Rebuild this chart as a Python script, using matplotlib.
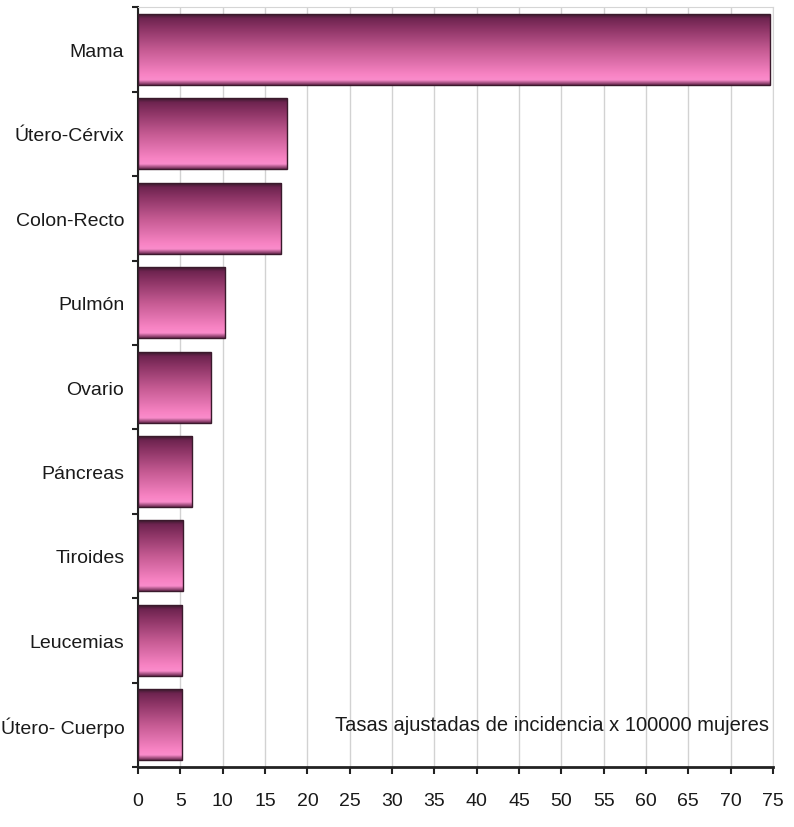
import numpy as np
import matplotlib
matplotlib.use("Agg")
from matplotlib import pyplot as plt
from matplotlib.colors import LinearSegmentedColormap

plt.rcParams['font.family'] = ['Liberation Sans Narrow', 'Liberation Sans', 'DejaVu Sans']

categorias = [u'Mama', u'Útero-Cérvix', u'Colon-Recto', u'Pulmón', u'Ovario',
              u'Páncreas', u'Tiroides', u'Leucemias', u'Útero- Cuerpo']
tasas = [74.6, 17.6, 16.9, 10.3, 8.6, 6.4, 5.3, 5.2, 5.2]
xticks = list(range(0, 80, 5))
nota = u"Tasas ajustadas de incidencia x 100000 mujeres"

# degradado vertical de las barras (arriba oscuro -> abajo rosa claro)
grad = LinearSegmentedColormap.from_list(
    "rosa", [(0.0, "#3a1a2c"), (0.06, "#6e2450"), (0.2, "#8c3465"),
             (0.5, "#c45a92"), (0.85, "#f783c3"), (0.93, "#fa8ccb"),
             (1.0, "#6a2a50")])

fig = plt.figure(figsize=(7.94, 8.28), dpi=100)
ax = fig.add_axes([0.174, 0.0725, 0.7995, 0.9175])

y = np.arange(len(categorias))
bars = ax.barh(y, tasas, height=0.84, color="none", edgecolor="#3a1a2c",
               linewidth=1.0, zorder=3)
g = np.linspace(0, 1, 256).reshape(-1, 1)
for b in bars:
    x0, y0 = b.get_x(), b.get_y()
    w, h = b.get_width(), b.get_height()
    # y invertido: fila 0 de la imagen en la parte superior de la barra
    im = ax.imshow(g, cmap=grad, aspect="auto", origin="upper",
                   extent=(x0, x0 + w, y0 + h, y0), zorder=2,
                   interpolation="bilinear")
    im.set_clip_path(b)

ax.set_xlim(0, 75)
ax.set_ylim(len(categorias) - 0.5, -0.5)
ax.set_xticks(xticks)
ax.set_xticklabels([str(t) for t in xticks], fontsize=14)
ax.set_yticks(y)
ax.set_yticklabels(categorias, fontsize=14)
ax.set_yticks(np.arange(len(categorias) + 1) - 0.5, minor=True)
ax.tick_params(axis='y', which='major', length=0, pad=10)
ax.tick_params(axis='y', which='minor', length=4, width=1.5, color="#222222")
ax.tick_params(axis='x', length=5, width=1.5, color="#222222", pad=13)
for lab in ax.get_xticklabels() + ax.get_yticklabels():
    lab.set_color("#1a1a1a")

ax.grid(axis='x', color="#d2d2d2", linewidth=1.0, zorder=0)
ax.set_axisbelow(True)
ax.spines['left'].set_linewidth(1.5)
ax.spines['bottom'].set_linewidth(2.0)
ax.spines['left'].set_color("#222222")
ax.spines['bottom'].set_color("#222222")
ax.spines['top'].set_color("#d5d5d5")
ax.spines['right'].set_color("#d5d5d5")

ax.text(74.5, 8.0, nota, ha='right', va='center', fontsize=14.5,
        color="#1a1a1a", zorder=4)

fig.savefig("out.png", dpi=100)
